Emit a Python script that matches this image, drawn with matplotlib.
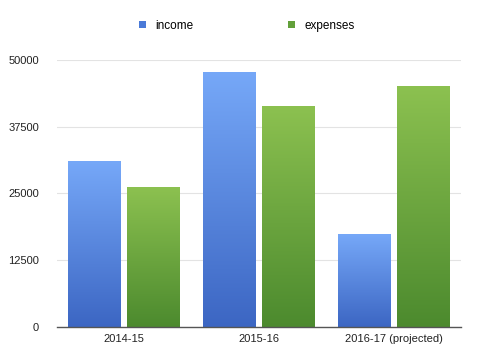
import numpy as np
import matplotlib
matplotlib.use("Agg")
import matplotlib.pyplot as plt
from matplotlib.colors import LinearSegmentedColormap
from matplotlib.patches import Patch

years = ["2014-15", "2015-16", "2016-17 (projected)"]
income = [31000, 47700, 17300]
expenses = [26100, 41400, 45100]
yticks = [0, 12500, 25000, 37500, 50000]

plt.rcParams["font.family"] = ["Liberation Sans", "DejaVu Sans"]

fig = plt.figure(figsize=(4.8, 3.58), dpi=100)
ax = fig.add_axes([57 / 480, 1 - 326.7 / 358, (461 - 57) / 480, (326.7 - 60) / 358])

blue_cmap = LinearSegmentedColormap.from_list("blue", ["#3c66c3", "#76a8f8"])
green_cmap = LinearSegmentedColormap.from_list("green", ["#4c8a2e", "#8cc150"])

x = np.arange(len(years))
w = 0.393
off = 0.219
grad = np.linspace(0, 1, 256).reshape(-1, 1)


def gradient_bars(xs, vals, cmap, label):
    bars = ax.bar(xs, vals, width=w, color="none", edgecolor="none", label=label, zorder=2)
    for b in bars:
        bx, by = b.get_x(), b.get_y()
        bw, bh = b.get_width(), b.get_height()
        im = ax.imshow(grad, cmap=cmap, origin="lower", aspect="auto",
                       extent=[bx, bx + bw, by, by + bh], zorder=2)
        im.set_clip_path(b)
    return bars


gradient_bars(x - off, income, blue_cmap, "income")
gradient_bars(x + off, expenses, green_cmap, "expenses")

ax.set_xlim(-0.5, 2.5)
ax.set_ylim(0, 50000)
ax.set_yticks(yticks)
ax.set_yticklabels([str(t) for t in yticks])
ax.set_xticks(x)
ax.set_xticklabels(years)
ax.yaxis.grid(True, color="#e3e3e3", linewidth=0.8, zorder=0)
ax.set_axisbelow(True)

for s in ["top", "right", "left"]:
    ax.spines[s].set_visible(False)
ax.spines["bottom"].set_color("#555555")
ax.spines["bottom"].set_linewidth(1.0)
ax.spines["bottom"].set_zorder(3)
ax.tick_params(axis="both", length=0, labelsize=8, colors="#222222")
ax.tick_params(axis="y", pad=13)
ax.tick_params(axis="x", pad=5)

handles = [Patch(facecolor="#4a7ad8", edgecolor="none"),
           Patch(facecolor="#62a03a", edgecolor="none")]
fig.legend(handles, ["income", "expenses"], loc="center", bbox_to_anchor=(247 / 480, 1 - 25.7 / 358),
           ncol=2, frameon=False, fontsize=8.5, handlelength=0.6, handleheight=0.65,
           handletextpad=0.8, columnspacing=8.0)

fig.savefig("out.png", dpi=100)
